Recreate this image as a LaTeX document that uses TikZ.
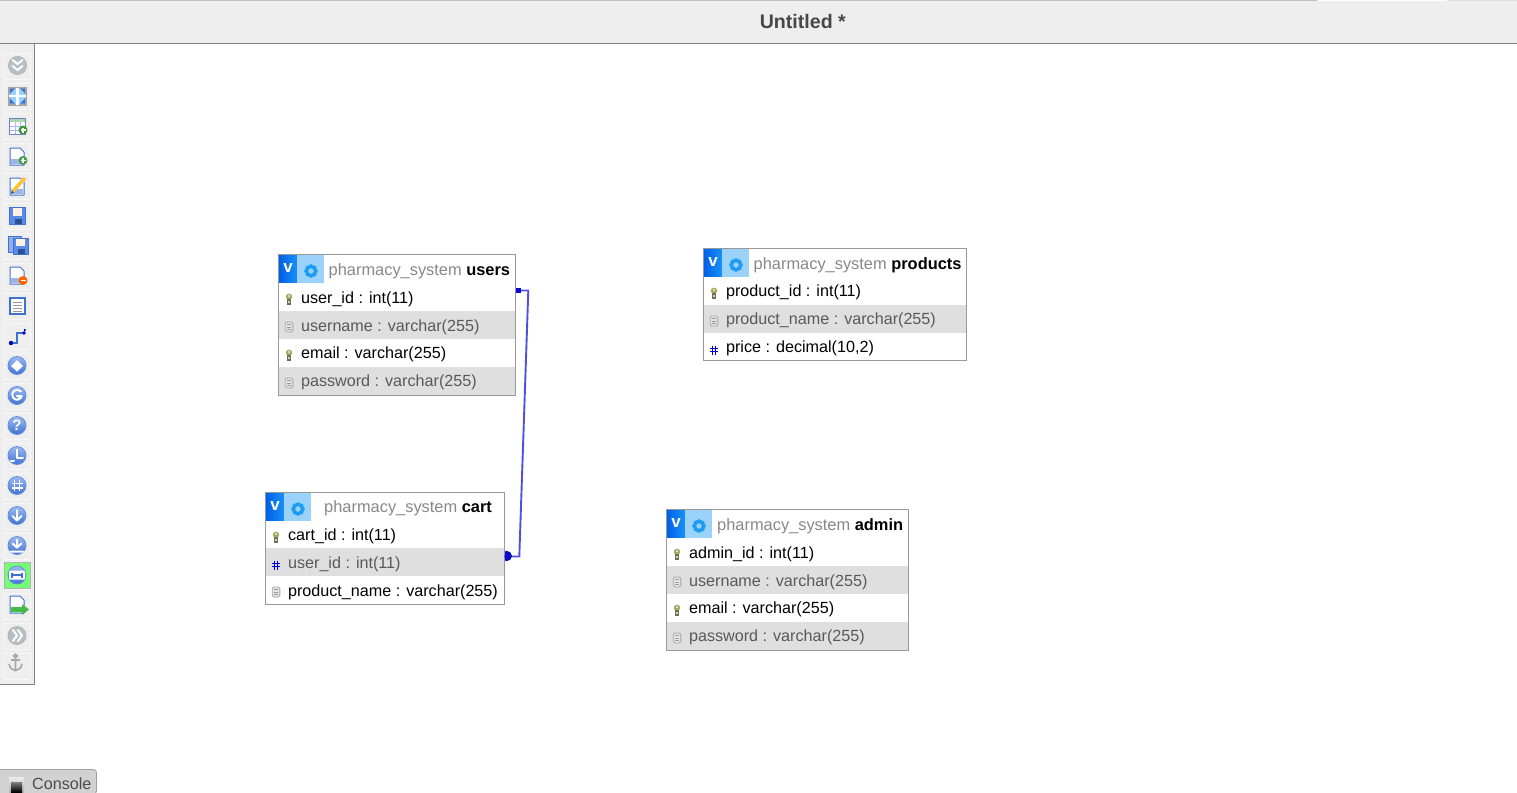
\documentclass[tikz,border=0pt]{standalone}
\usepackage{fontspec}
\setmainfont{Liberation Sans}
\usetikzlibrary{shapes.geometric}
\definecolor{rowgray}{HTML}{DFDFDF}
\definecolor{barbg}{HTML}{EEEEEE}
\definecolor{tblborder}{HTML}{999999}
\definecolor{graytxt}{HTML}{888888}
\definecolor{reltxt}{HTML}{5050E0}
\definecolor{relend}{HTML}{0A0AC8}
\definecolor{iconblue}{HTML}{5B8BE8}
\definecolor{iconedge}{HTML}{3F72D0}
\definecolor{icongray}{HTML}{B4C0C6}
\definecolor{vdark}{HTML}{0060E8}
\definecolor{vlight}{HTML}{1A90F8}
\definecolor{striplight}{HTML}{9AD2FA}
\definecolor{gearblue}{HTML}{1E9CF2}
\definecolor{keyol}{HTML}{A8A860}
\definecolor{keydk}{HTML}{6E6E58}
\tikzset{
  x=1pt,y=-1pt,
  tablerow/.style={anchor=north west,inner sep=0pt,outer sep=0pt,minimum height=28pt},
  rowtext/.style={anchor=base west,inner sep=0pt,font=\fontsize{16.15}{18}\selectfont},
  titletext/.style={anchor=base west,inner sep=0pt,font=\fontsize{16.4}{18}\selectfont},
  tableframe/.style={draw=tblborder,line width=1pt},
  relline/.style={draw=reltxt,line width=1.9pt,line join=round},
  circicon/.style={circle,top color=iconblue!60!white,bottom color=iconedge,draw=iconedge!80,line width=.8pt,minimum size=18pt,inner sep=0pt},
  grayicon/.style={circle,fill=icongray,draw=gray!60,line width=.8pt,minimum size=18pt,inner sep=0pt},
  iconmark/.style={white,line width=2pt,line cap=round,line join=round},
  docicon/.style={draw=iconedge,fill=white,line width=1pt,line join=round},
}
% header: table name, x, y, strip end, title x, title baseline
\newcommand\tblhead[6]{%
  \path[shade,left color=vdark,right color=vlight] (#2,#3) rectangle ++(18,28);
  \path[fill=striplight] (#2+18,#3) rectangle (#4,#3+28);
  \node[anchor=center,inner sep=0pt,white,font=\fontsize{17}{17}\selectfont\bfseries] at (#2+9,#3+13) {v};
  \fill[gearblue,even odd rule] (#2+32,#3+16) circle (6.2) (#2+32,#3+16) circle (2.6);
  \foreach \ang in {0,45,...,315}{\fill[gearblue] (#2+32,#3+16) ++(\ang:5.5) circle (1.7);}
  \fill[striplight] (#2+32,#3+16) circle (2.6);
  \node[titletext,text=graytxt] at (#5,#6) {pharmacy\_system \textcolor{black}{\textbf{#1}}};
}
% row: node name, x, y, width, fill colour, icon macro, text colour, text, baseline
\newcommand\tblrow[9]{%
  \node[tablerow,fill=#5,minimum width=#4 pt] (#1) at (#2,#3) {};
  #6{#2+10}{#3+15}
  \node[rowtext,text=#7] at (#2+21.9,#9) {#8};
}
\newcommand\keyicon[2]{%
  \fill[keyol] (#1,#2-1.2) ellipse (3.2 and 3.2);
  \fill[keydk] (#1-1.9,#2+1) rectangle (#1+1.9,#2+7);
  \fill[keyol!40!white] (#1-1.1,#2-2.6) rectangle (#1+1.1,#2-1);
  \fill[keyol!50!white] (#1-.7,#2+2.5) rectangle (#1+.7,#2+4.5);
}
\newcommand\fieldicon[2]{%
  \draw[gray!70,fill=gray!20,rounded corners=1.5pt,line width=.9pt] (#1-3.8,#2-4) rectangle (#1+3.8,#2+6);
  \draw[gray!80,line width=.7pt] (#1-2,#2-1.2) -- (#1+2,#2-1.2) (#1-2,#2+1) -- (#1+2,#2+1) (#1-2,#2+3.2) -- (#1+2,#2+3.2);
}
\newcommand\hashicon[2]{%
  \draw[blue!85!black,line width=1.15pt] (#1-1.6,#2-2.5) -- (#1-1.6,#2+6.5) (#1+1.8,#2-2.5) -- (#1+1.8,#2+6.5)
    (#1-3.8,#2+.4) -- (#1+4,#2+.4) (#1-3.8,#2+3.8) -- (#1+4,#2+3.8);
}
\newcommand\docshape[2]{%
  \draw[docicon] (#1-7,#2-9) -- (#1+3,#2-9) -- (#1+7,#2-5) -- (#1+7,#2+8) -- (#1-7,#2+8) -- cycle;
  \fill[cyan!50!blue!40!white] (#1-6,#2+2) rectangle (#1+6,#2+7);
}
\begin{document}
\begin{tikzpicture}
\useasboundingbox (0,0) rectangle (1517,792);
\fill[white] (0,0) rectangle (1517,792);
% top bar
\fill[barbg] (0,0) rectangle (1517,43);
\fill[gray!50] (0,0) rectangle (1317,1);
\fill[white] (1319,0) rectangle (1447,1);
\fill[gray!25] (1447,0) rectangle (1517,1);
\draw[gray,line width=1pt] (0,43.5) -- (1517,43.5);
\node[inner sep=0pt,text=black!72,font=\fontsize{19.6}{22}\selectfont\bfseries] (title) at (802.8,21) {Untitled *};
% toolbar
\draw[gray,fill=barbg,line width=1pt] (-1,44) -- (34.5,44) -- (34.5,684.5) -- (-1,684.5);
\foreach \yy in {66,96,...,666}{\draw[white,densely dotted,line width=.8pt] (4.5,\yy-13) rectangle (30.5,\yy+13);}
\node[grayicon] at (17.5,65.5) {};
\draw[iconmark] (12.5,60) -- (17.5,64) -- (22.5,60) (12.5,66) -- (17.5,70) -- (22.5,66);
% fullscreen
\draw[gray!70,fill=blue!45!cyan!40!white,line width=2pt] (9,87.5) rectangle (26,104.5);
\draw[white,line width=2.6pt] (9,96) -- (26,96) (17.5,87.5) -- (17.5,104.5);
\fill[iconedge] (10,88.5) -- (15,88.5) -- (10,93.5) -- cycle (25,88.5) -- (20,88.5) -- (25,93.5) -- cycle (10,103.5) -- (15,103.5) -- (10,98.5) -- cycle (25,103.5) -- (20,103.5) -- (25,98.5) -- cycle;
% add table
\draw[gray!50!blue!70,fill=white,line width=1pt] (9.5,118) rectangle (25,134);
\fill[green!40!gray!50] (10,118.5) rectangle (24.5,122);
\draw[blue!30,line width=.8pt] (10,126) -- (24,126) (10,130) -- (24,130) (15,122) -- (15,134) (20,122) -- (20,134);
\fill[green!50!black!80] (23,130) circle (4.5);
\draw[white,line width=1.2pt] (20.5,130) -- (25.5,130) (23,127.5) -- (23,132.5);
% add page
\docshape{17}{157}
\fill[green!45!black!70] (23,160.5) circle (4.5);
\draw[white,line width=1.2pt] (20.5,160.5) -- (25.5,160.5) (23,158) -- (23,163);
% edit page
\docshape{17}{187}
\draw[orange!60!yellow!80,line width=3.5pt] (13,191) -- (25,178);
\fill[black!70] (11,193.5) -- (14,193) -- (12,190.5) -- cycle;
% save
\draw[docicon,fill=iconblue] (9,207) rectangle (25,224);
\fill[orange!10] (13,208) rectangle (22,216);
\fill[iconedge!70!black] (15,219) rectangle (22,224);
% save all
\draw[docicon,fill=iconblue!70] (8,236) rectangle (21,252);
\draw[docicon,fill=iconblue] (13,238) rectangle (28,254);
\fill[orange!10] (16,239) rectangle (25,246);
\fill[iconedge!70!black] (18,249) rectangle (25,254);
% delete page
\docshape{17}{276}
\fill[orange!80!red] (23,280.5) circle (4.5);
\draw[white,line width=1.2pt] (20.5,280.5) -- (25.5,280.5);
% list
\draw[iconedge,fill=white,line width=1.6pt] (10,298) rectangle (25,314);
\draw[gray!80,line width=1pt] (13,302) -- (22,302) (13,305) -- (22,305) (13,308) -- (22,308) (13,311) -- (22,311);
% relation
\draw[iconedge,line width=1.4pt] (11,343) -- (17,343) -- (17,333) -- (24,333);
\fill[blue!70!black] (11,343) circle (2.2) (24,329) rectangle (25.5,331) (24,333) circle (1.8);
% circles
\node[circicon] at (17,365.5) {};
\fill[white] (17,360) -- (23,366) -- (17,371.5) -- (11,366) -- cycle;
\node[circicon] at (17,395.5) {};
\draw[iconmark] (21,391.5) arc (-40:-320:5) -- (17,396) -- (22,396);
\node[circicon,text=white,font=\fontsize{15}{15}\selectfont\bfseries] at (17,425.5) {?};
\node[circicon] at (17,455.5) {};
\draw[iconmark] (17,449.5) -- (17,457.5) -- (23,457.5) (11,460.5) -- (14,460.5);
\node[circicon] at (17,485.5) {};
\draw[white,line width=1.3pt] (14.5,480) -- (14.5,491) (19.5,480) -- (19.5,491) (11.5,483.5) -- (22.5,483.5) (11.5,488) -- (22.5,488);
\node[circicon] at (17,515.5) {};
\draw[iconmark] (17,510) -- (17,520.5) (12.5,516) -- (17,520.5) -- (21.5,516);
\node[circicon] at (17,545.5) {};
\draw[iconmark] (17,539.5) -- (17,547.5) (12.5,543.5) -- (17,547.5) -- (21.5,543.5) (11,551.5) -- (23,551.5);
% active tool
\draw[gray!60,fill=green!55!white,line width=1pt] (4.5,562.5) rectangle (30.5,588.5);
\node[circicon] at (17,575) {};
\fill[white,rounded corners=1pt] (9,570.5) rectangle (25,579.5);
\draw[iconedge,line width=1.1pt] (12,572.5) -- (12,577.5) (22,572.5) -- (22,577.5) (12,575) -- (22,575);
% export page
\docshape{17}{605}
\fill[green!45!gray] (11,607) rectangle (22,612) (22,604) -- (29,609.5) -- (22,615) -- cycle;
\node[grayicon] at (17,635.5) {};
\draw[iconmark] (13,630) -- (17,635.5) -- (13,641) (18,630) -- (22,635.5) -- (18,641);
% anchor
\draw[gray!70,line width=1.6pt] (15.5,656) circle (1.8) (15.5,658) -- (15.5,670) (11,660) -- (20,660);
\draw[gray!70,line width=1.6pt] (9,664) .. controls (10,669) and (13,670) .. (15.5,670.5) .. controls (18,670) and (21,669) .. (22,664);
% console tab
\path[fill=gray!35,draw=gray!75,line width=.8pt,rounded corners=3pt] (-2,769.5) -- (96.5,769.5) -- (96.5,794) -- (-2,794);
\path[shade,top color=gray!15,bottom color=gray!60] (9,777) rectangle (24,792);
\path[shade,top color=gray,bottom color=black] (11,782) rectangle (22,792);
\node[rowtext,text=black!70] (console) at (32,789) {Console};

% users
\tblhead{users}{279}{255}{324}{328.5}{275}
\tblrow{u1}{279}{283}{237}{white}{\keyicon}{black}{user\_id : int(11)}{303}
\tblrow{u2}{279}{311}{237}{rowgray}{\fieldicon}{black!65}{username : varchar(255)}{331}
\tblrow{u3}{279}{339}{237}{white}{\keyicon}{black}{email : varchar(255)}{358}
\tblrow{u4}{279}{367}{237}{rowgray}{\fieldicon}{black!65}{password : varchar(255)}{386}
\draw[tableframe] (278.5,254.5) rectangle (515.5,395.5);
% products
\tblhead{products}{704}{249}{749}{753.5}{269}
\tblrow{p1}{704}{277}{262}{white}{\keyicon}{black}{product\_id : int(11)}{296}
\tblrow{p2}{704}{305}{262}{rowgray}{\fieldicon}{black!65}{product\_name : varchar(255)}{324}
\tblrow{p3}{704}{333}{262}{white}{\hashicon}{black}{price : decimal(10,2)}{352}
\draw[tableframe] (703.5,248.5) rectangle (966.5,360.5);
% cart
\tblhead{cart}{266}{493}{311}{324}{512}
\tblrow{c1}{266}{521}{238}{white}{\keyicon}{black}{cart\_id : int(11)}{540}
\tblrow{c2}{266}{548}{238}{rowgray}{\hashicon}{black!65}{user\_id : int(11)}{568}
\tblrow{c3}{266}{576}{238}{white}{\fieldicon}{black}{product\_name : varchar(255)}{596}
\draw[tableframe] (265.5,492.5) rectangle (504.5,604.5);
% admin
\tblhead{admin}{667}{510}{712}{717}{530}
\tblrow{a1}{667}{538}{241}{white}{\keyicon}{black}{admin\_id : int(11)}{558}
\tblrow{a2}{667}{566}{241}{rowgray}{\fieldicon}{black!65}{username : varchar(255)}{586}
\tblrow{a3}{667}{594}{241}{white}{\keyicon}{black}{email : varchar(255)}{613}
\tblrow{a4}{667}{622}{241}{rowgray}{\fieldicon}{black!65}{password : varchar(255)}{641}
\draw[tableframe] (666.5,509.5) rectangle (908.5,650.5);
% relation
\coordinate (bendu) at (528.3,290.5);
\coordinate (bendc) at (519.3,556.5);
\draw[relline] (u1.east |- bendu) -- (bendu) -- (bendc) -- (c2.east |- bendc);
\fill[relend] (516,288.3) rectangle (520.5,292.7);
\begin{scope}
\clip (505,545) rectangle (515,567);
\fill[relend] (506.5,556) ellipse (5.5 and 5.2);
\end{scope}
\end{tikzpicture}
\end{document}
